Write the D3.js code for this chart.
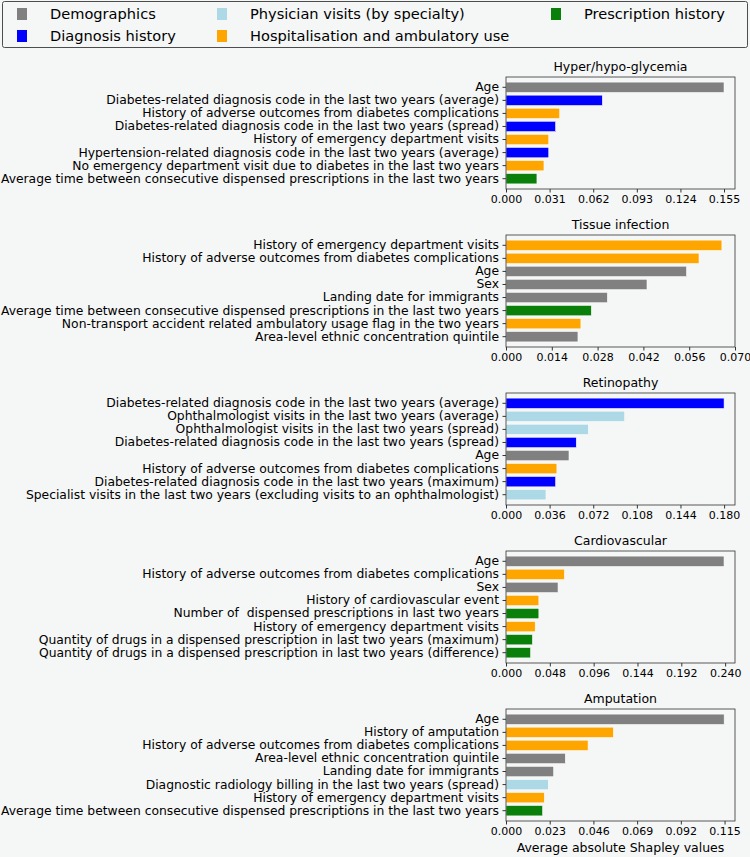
<!DOCTYPE html>
<html>
<head>
<meta charset="utf-8">
<script src="https://cdn.jsdelivr.net/npm/d3@7"></script>
<style>
  body { margin: 0; background: #f5f6f6; }
  text { font-family: "DejaVu Sans", sans-serif; fill: #000; }
</style>
</head>
<body>
<div id="chart"></div>
<script>
// legend groups and colours
var groups = ["Demographics", "Diagnosis history", "Physician visits (by specialty)", "Hospitalisation and ambulatory use", "Prescription history"];
var groupColors = ["#808080", "#0000ff", "#add8e6", "#ffa500", "#0a800a"];

var titles = ["Hyper/hypo-glycemia", "Tissue infection", "Retinopathy", "Cardiovascular", "Amputation"];

var glycLabels = ["Age", "Diabetes-related diagnosis code in the last two years (average)", "History of adverse outcomes from diabetes complications", "Diabetes-related diagnosis code in the last two years (spread)", "History of emergency department visits", "Hypertension-related diagnosis code in the last two years (average)", "No emergency department visit due to diabetes in the last two years", "Average time between consecutive dispensed prescriptions in the last two years"];
var glycValues = [0.155, 0.0685, 0.0382, 0.0353, 0.0304, 0.0304, 0.0270, 0.0220];
var glycGroups = [0, 1, 3, 1, 3, 1, 3, 4];
var glycTicks = ["0.000", "0.031", "0.062", "0.093", "0.124", "0.155"];

var tissueLabels = ["History of emergency department visits", "History of adverse outcomes from diabetes complications", "Age", "Sex", "Landing date for immigrants", "Average time between consecutive dispensed prescriptions in the last two years", "Non-transport accident related ambulatory usage flag in the two years", "Area-level ethnic concentration quintile"];
var tissueValues = [0.0660, 0.0590, 0.0552, 0.0431, 0.0310, 0.0261, 0.0229, 0.0220];
var tissueGroups = [3, 3, 0, 0, 0, 4, 3, 0];
var tissueTicks = ["0.000", "0.014", "0.028", "0.042", "0.056", "0.070"];

var retinoLabels = ["Diabetes-related diagnosis code in the last two years (average)", "Ophthalmologist visits in the last two years (average)", "Ophthalmologist visits in the last two years (spread)", "Diabetes-related diagnosis code in the last two years (spread)", "Age", "History of adverse outcomes from diabetes complications", "Diabetes-related diagnosis code in the last two years (maximum)", "Specialist visits in the last two years (excluding visits to an ophthalmologist)"];
var retinoValues = [0.180, 0.098, 0.068, 0.058, 0.052, 0.042, 0.041, 0.033];
var retinoGroups = [1, 2, 2, 1, 0, 3, 1, 2];
var retinoTicks = ["0.000", "0.036", "0.072", "0.108", "0.144", "0.180"];

var cardioLabels = ["Age", "History of adverse outcomes from diabetes complications", "Sex", "History of cardiovascular event", "Number of  dispensed prescriptions in last two years", "History of emergency department visits", "Quantity of drugs in a dispensed prescription in last two years (maximum)", "Quantity of drugs in a dispensed prescription in last two years (difference)"];
var cardioValues = [0.2388, 0.064, 0.057, 0.036, 0.036, 0.032, 0.029, 0.027];
var cardioGroups = [0, 3, 0, 3, 4, 3, 4, 4];
var cardioTicks = ["0.000", "0.048", "0.096", "0.144", "0.192", "0.240"];

var amputLabels = ["Age", "History of amputation", "History of adverse outcomes from diabetes complications", "Area-level ethnic concentration quintile", "Landing date for immigrants", "Diagnostic radiology billing in the last two years (spread)", "History of emergency department visits", "Average time between consecutive dispensed prescriptions in the last two years"];
var amputValues = [0.1148, 0.0565, 0.0432, 0.0312, 0.0251, 0.0223, 0.0202, 0.0193];
var amputGroups = [0, 3, 3, 0, 0, 2, 3, 4];
var amputTicks = ["0.000", "0.023", "0.046", "0.069", "0.092", "0.115"];

// upper end of each x axis
var xMax = [0.1628, 0.0700, 0.1890, 0.2508, 0.1205];

var panels = [
  {labels: glycLabels, values: glycValues, groups: glycGroups, ticks: glycTicks},
  {labels: tissueLabels, values: tissueValues, groups: tissueGroups, ticks: tissueTicks},
  {labels: retinoLabels, values: retinoValues, groups: retinoGroups, ticks: retinoTicks},
  {labels: cardioLabels, values: cardioValues, groups: cardioGroups, ticks: cardioTicks},
  {labels: amputLabels, values: amputValues, groups: amputGroups, ticks: amputTicks}
];

var width = 750, height = 857;
var axLeft = 506, axRight = 735;
var axTop0 = 77, axGap = 158, axH = 112;

var svg = d3.select("#chart").append("svg")
    .attr("width", width)
    .attr("height", height)

svg.append("rect")
    .attr("width", width)
    .attr("height", height)
    .attr("fill", "#f5f6f6")

// legend
var legend = svg.append("g")
legend.append("rect")
    .attr("x", 2.5).attr("y", 1.5)
    .attr("width", 745).attr("height", 46)
    .attr("rx", 2)
    .attr("fill", "#f5f6f6")
    .attr("stroke", "#4d4d4d")
    .attr("stroke-width", 1)

var legendPos = [[0, 0], [0, 1], [1, 0], [1, 1], [2, 0]];
var colX = [17, 217, 551];
var legItem = legend.selectAll("g.item")
    .data(groups)
    .enter().append("g")
    .attr("class", "item")
    .attr("transform", function(d, i) {
        return "translate(" + colX[legendPos[i][0]] + "," + (14 + legendPos[i][1] * 22) + ")";
    })
legItem.append("rect")
    .attr("x", 0).attr("y", -6)
    .attr("width", 10).attr("height", 12)
    .attr("fill", (d, i) => groupColors[i])
legItem.append("text")
    .attr("x", 33)
    .attr("dy", "0.36em")
    .attr("font-size", 14.6)
    .text(d => d)

panels.forEach(function(p, k) {
  var top = axTop0 + k * axGap;
  var g = svg.append("g");

  var x = d3.scaleLinear().domain([0, xMax[k]]).range([axLeft, axRight]);
  var y = d3.scaleBand().domain(d3.range(p.values.length))
      .range([top, top + axH])
      .paddingInner(0.2)
      .paddingOuter(0.39);

  g.append("rect")
      .attr("x", axLeft).attr("y", top)
      .attr("width", axRight - axLeft).attr("height", axH)
      .attr("fill", "#f5f6f6")

  g.selectAll("rect.bar")
      .data(p.values)
      .enter().append("rect")
      .attr("class", "bar")
      .attr("x", x(0))
      .attr("y", (d, i) => y(i))
      .attr("width", d => x(d) - x(0))
      .attr("height", y.bandwidth())
      .attr("fill", (d, i) => groupColors[p.groups[i]])
      .attr("stroke", "#ffffff")
      .attr("stroke-width", 0.6)

  var tickVals = p.ticks.map(Number);
  var xAxis = d3.axisBottom(x).tickValues(tickVals)
      .tickFormat((d, i) => p.ticks[i])
      .tickSize(3.5).tickPadding(3);
  var ax = g.append("g")
      .attr("transform", "translate(0," + (top + axH) + ")")
      .call(xAxis)
  ax.select(".domain").remove();
  ax.selectAll("line").attr("stroke", "#000").attr("stroke-width", 0.8);
  ax.selectAll("text").attr("font-size", 11).attr("font-family", "DejaVu Sans");

  var yAxis = d3.axisLeft(y).tickFormat((d, i) => p.labels[i]).tickSize(3.5).tickPadding(3.5);
  var ay = g.append("g")
      .attr("transform", "translate(" + axLeft + ",0)")
      .call(yAxis)
  ay.select(".domain").remove();
  ay.selectAll("line").attr("stroke", "#000").attr("stroke-width", 0.8);
  ay.selectAll("text").attr("font-size", 12.35).attr("font-family", "DejaVu Sans")
      .style("white-space", "pre");

  g.append("rect")
      .attr("x", axLeft).attr("y", top)
      .attr("width", axRight - axLeft).attr("height", axH)
      .attr("fill", "none")
      .attr("stroke", "#333")
      .attr("stroke-width", 0.8)

  g.append("text")
      .attr("x", (axLeft + axRight) / 2)
      .attr("y", top - 6)
      .attr("text-anchor", "middle")
      .attr("font-size", 12.5)
      .text(titles[k])
});

svg.append("text")
    .attr("x", (axLeft + axRight) / 2)
    .attr("y", axTop0 + 4 * axGap + axH + 31)
    .attr("text-anchor", "middle")
    .attr("font-size", 12.5)
    .text("Average absolute Shapley values")
</script>
</body>
</html>
